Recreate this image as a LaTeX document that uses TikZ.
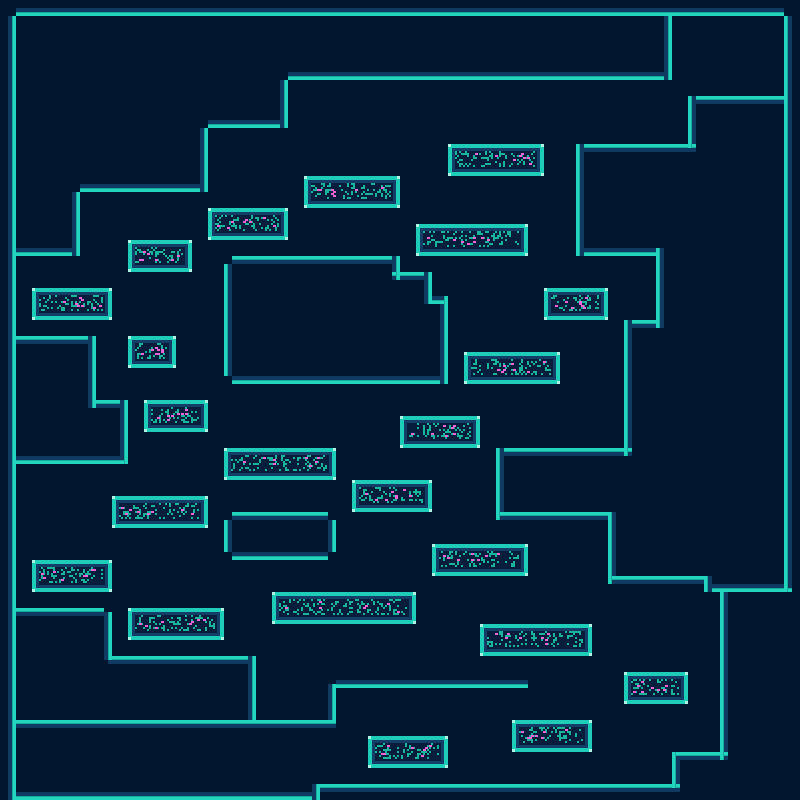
\documentclass[tikz,border=0pt]{standalone}
\definecolor{mapbg}{RGB}{2,22,48}
\definecolor{walldark}{RGB}{16,58,96}
\definecolor{wallteal}{RGB}{22,170,160}
\definecolor{wallcyan}{RGB}{34,214,190}
\definecolor{paneledge}{RGB}{30,204,184}
\definecolor{panellight}{RGB}{175,246,232}
\definecolor{panelring}{RGB}{18,62,104}
\definecolor{panelinner}{RGB}{6,30,60}
\definecolor{glyphteal}{RGB}{26,180,156}
\definecolor{glyphpink}{RGB}{236,100,214}

% wall bars, 8px wide: half cyan, half dark
% horizontal: x1/x2/ytop   vertical: y1/y2/xleft
\def\hct{696/784/96, 584/696/144, 632/660/320, 504/632/448, 496/608/512,
  608/704/576, 676/728/752, 316/680/784, 16/88/336, 96/120/400, 16/104/608,
  108/248/656, 16/336/720, 232/392/256, 392/424/272, 232/328/512}
\def\hcb{16/784/8, 712/792/584, 16/312/792, 16/72/248, 80/200/184,
  208/280/120, 288/664/72, 584/656/248, 16/128/456, 336/528/680,
  432/448/296, 232/440/376, 232/328/552}
\def\vcl{16/592/784, 96/148/688, 144/256/576, 248/328/656, 320/456/624,
  448/520/496, 512/584/608, 576/592/704, 592/760/720, 752/788/672,
  264/376/224, 520/552/224}
\def\vcr{16/800/8, 16/80/664, 80/128/280, 128/192/200, 192/256/72,
  336/408/88, 400/464/120, 612/660/104, 656/720/248, 684/720/328,
  784/800/312, 256/280/392, 272/304/424, 296/384/440, 520/552/328}
% panels: x1/ytop/x2 (all 32px high)
\def\panels{448/144/544, 304/176/400, 208/208/288, 416/224/528, 128/240/192,
  32/288/112, 544/288/608, 128/336/176, 464/352/560, 144/400/208,
  400/416/480, 224/448/336, 352/480/432, 112/496/208, 432/544/528,
  32/560/112, 272/592/416, 128/608/224, 480/624/592, 624/672/688,
  512/720/592, 368/736/448}

\begin{document}
\begin{tikzpicture}[x=1pt,y=-1pt]
  \useasboundingbox (0,0) rectangle (800,800);
  \fill[mapbg] (0,0) rectangle (800,800);
  \pgfmathsetseed{42}

  % dark halves
  \foreach \xa/\xb/\y in \hct {\fill[walldark] (\xa,\y+4) rectangle (\xb,\y+8);}
  \foreach \xa/\xb/\y in \hcb {\fill[walldark] (\xa,\y) rectangle (\xb,\y+4);}
  \foreach \ya/\yb/\x in \vcl {\fill[walldark] (\x+4,\ya) rectangle (\x+8,\yb);}
  \foreach \ya/\yb/\x in \vcr {\fill[walldark] (\x,\ya) rectangle (\x+4,\yb);}

  % cyan halves
  \foreach \xa/\xb/\y in \hct {
    \fill[wallteal] (\xa,\y) rectangle (\xb,\y+4);
    \fill[wallcyan] (\xa,\y) rectangle (\xb,\y+3);
  }
  \foreach \xa/\xb/\y in \hcb {
    \fill[wallteal] (\xa,\y+4) rectangle (\xb,\y+8);
    \fill[wallcyan] (\xa,\y+5) rectangle (\xb,\y+8);
  }
  \foreach \ya/\yb/\x in \vcl {
    \fill[wallteal] (\x,\ya) rectangle (\x+4,\yb);
    \fill[wallcyan] (\x,\ya) rectangle (\x+3,\yb);
  }
  \foreach \ya/\yb/\x in \vcr {
    \fill[wallteal] (\x+4,\ya) rectangle (\x+8,\yb);
    \fill[wallcyan] (\x+5,\ya) rectangle (\x+8,\yb);
  }

  % panels
  \foreach \xa/\ya/\xb in \panels {
    \fill[paneledge] (\xa,\ya) rectangle (\xb,\ya+32);
    \fill[panellight] (\xa,\ya) rectangle (\xa+3,\ya+3);
    \fill[panellight] (\xb-3,\ya) rectangle (\xb,\ya+3);
    \fill[panellight] (\xa,\ya+29) rectangle (\xa+3,\ya+32);
    \fill[panellight] (\xb-3,\ya+29) rectangle (\xb,\ya+32);
    \fill[panelring] (\xa+4,\ya+4) rectangle (\xb-4,\ya+28);
    \fill[panelinner] (\xa+7,\ya+7) rectangle (\xb-7,\ya+25);
    \pgfmathtruncatemacro\nk{(\xb-\xa-14)*1.1}
    \foreach \k in {1,...,\nk} {
      \pgfmathsetmacro\gx{\xa+7+2*int(rnd*(\xb-\xa-16)/2)}
      \pgfmathsetmacro\gy{\ya+7+2*int(rnd*8)}
      \fill[glyphteal] (\gx,\gy) rectangle ++(2,2);
    }
    \foreach \k in {1,...,8} {
      \pgfmathsetmacro\gx{\xa+9+2*int(rnd*(\xb-\xa-22)/2)}
      \pgfmathsetmacro\gy{\ya+9+2*int(rnd*6)}
      \fill[glyphpink] (\gx,\gy) rectangle ++(3,2);
    }
  }
\end{tikzpicture}
\end{document}
